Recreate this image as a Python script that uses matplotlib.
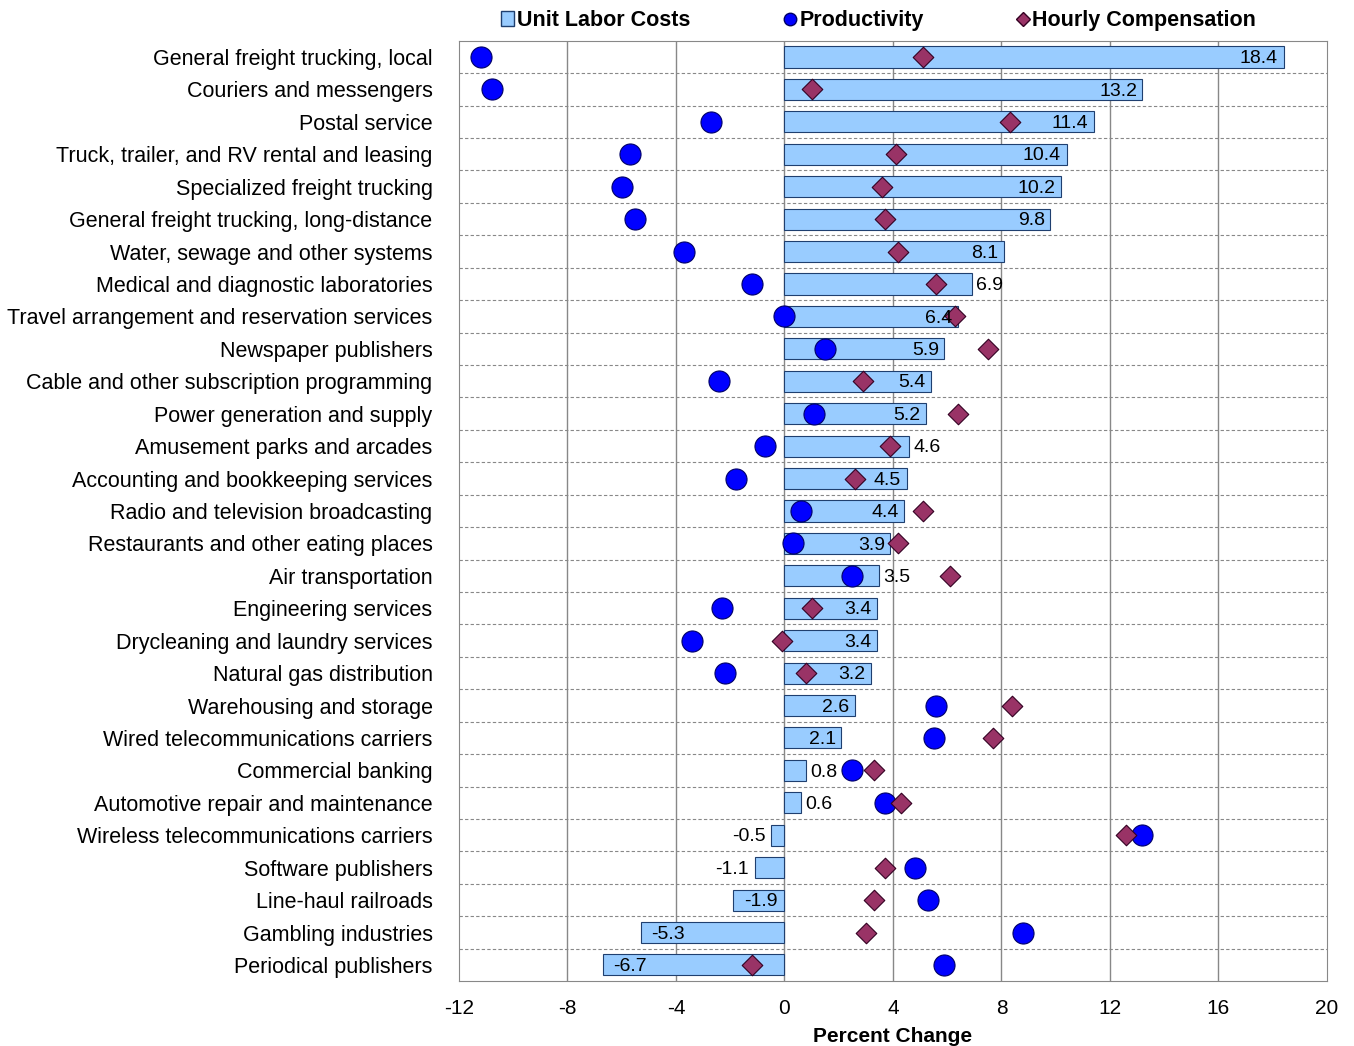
import matplotlib
matplotlib.use("Agg")
import matplotlib.pyplot as plt
from matplotlib.lines import Line2D
from matplotlib.patches import Patch
plt.rcParams['font.family'] = ['Liberation Sans', 'DejaVu Sans']
plt.rcParams['axes.unicode_minus'] = False

industries = ["General freight trucking, local","Couriers and messengers","Postal service",
"Truck, trailer, and RV rental and leasing","Specialized freight trucking","General freight trucking, long-distance",
"Water, sewage and other systems","Medical and diagnostic laboratories","Travel arrangement and reservation services",
"Newspaper publishers","Cable and other subscription programming","Power generation and supply",
"Amusement parks and arcades","Accounting and bookkeeping services","Radio and television broadcasting",
"Restaurants and other eating places","Air transportation","Engineering services",
"Drycleaning and laundry services","Natural gas distribution","Warehousing and storage",
"Wired telecommunications carriers","Commercial banking","Automotive repair and maintenance",
"Wireless telecommunications carriers","Software publishers","Line-haul railroads",
"Gambling industries","Periodical publishers"]
ulc = [18.4,13.2,11.4,10.4,10.2,9.8,8.1,6.9,6.4,5.9,5.4,5.2,4.6,4.5,4.4,3.9,3.5,3.4,3.4,3.2,2.6,2.1,0.8,0.6,-0.5,-1.1,-1.9,-5.3,-6.7]
productivity = [-11.2,-10.8,-2.7,-5.7,-6.0,-5.5,-3.7,-1.2,0.0,1.5,-2.4,1.1,-0.7,-1.8,0.6,0.3,2.5,-2.3,-3.4,-2.2,5.6,5.5,2.5,3.7,13.2,4.8,5.3,8.8,5.9]
compensation = [5.1,1.0,8.3,4.1,3.6,3.7,4.2,5.6,6.3,7.5,2.9,6.4,3.9,2.6,5.1,4.2,6.1,1.0,-0.1,0.8,8.4,7.7,3.3,4.3,12.6,3.7,3.3,3.0,-1.2]
label_inside = [True]*7+[False,True,True,True,True,False,True,True,True,False,True,True,True,True,True,False,False,False,False,True,True,True]

fig = plt.figure(figsize=(13.54,10.46), dpi=100)
ax = fig.add_axes([0.339,0.062,0.641,0.899])
n = len(industries)
y = list(range(n))
ax.barh(y, ulc, height=0.65, color="#99CCFF", edgecolor="#1F3F6F", linewidth=0.8, zorder=2)
ax.scatter(productivity, y, s=230, color="#0000FF", edgecolor="#000066", linewidth=0.8, zorder=4)
ax.scatter(compensation, y, s=110, marker="D", color="#993366", edgecolor="#330022", linewidth=0.8, zorder=5)
for i,(v,inside) in enumerate(zip(ulc,label_inside)):
    s = f"{v:.1f}"
    yy = i + 0.05
    if v >= 0:
        if inside: ax.text(v-0.2, yy, s, ha="right", va="center", fontsize=14, zorder=6)
        else: ax.text(v+0.15, yy, s, ha="left", va="center", fontsize=14, zorder=6)
    else:
        if inside: ax.text(v+0.4, yy, s, ha="left", va="center", fontsize=14, zorder=6)
        else: ax.text(v-0.2, yy, s, ha="right", va="center", fontsize=14, zorder=6)
ax.set_xlim(-12,20)
ax.set_ylim(n-0.5,-0.5)
ax.set_xticks(range(-12,21,4))
ax.tick_params(axis="x", labelsize=15, length=0, pad=13)
ax.set_yticks(y)
ax.set_yticklabels(industries, fontsize=15.5)
ax.tick_params(axis="y", length=0, pad=19)
for x in range(-8,20,4):
    ax.axvline(x, color="#888888", lw=1, zorder=1)
for k in range(n-1):
    ax.axhline(k+0.5, color="#888888", lw=0.8, ls=(0,(3,2)), zorder=1)
for s in ax.spines.values():
    s.set_color("#888888")
ax.set_xlabel("Percent Change", fontsize=15, fontweight="bold", labelpad=6)
handles = [Patch(facecolor="#99CCFF", edgecolor="#1F3F6F", label="Unit Labor Costs"),
           Line2D([],[],marker="o",ls="",color="#0000FF",mec="#000066",ms=9,label="Productivity"),
           Line2D([],[],marker="D",ls="",color="#993366",mec="#330022",ms=7,label="Hourly Compensation")]
fig.legend(handles=handles, loc="center", bbox_to_anchor=(0.649,0.980), ncol=3, frameon=False,
           prop={"size":15.5,"weight":"bold"}, handlelength=0.6, handletextpad=0.15, columnspacing=4.3)
fig.savefig("out.png")
